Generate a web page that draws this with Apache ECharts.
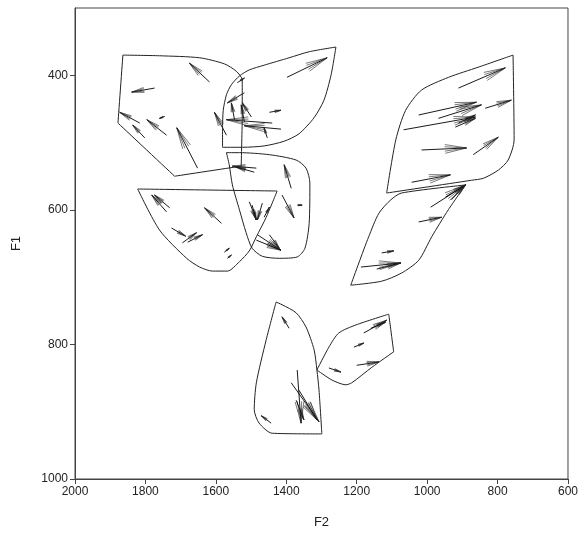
<!DOCTYPE html>
<html>
<head>
<meta charset="utf-8">
<script src="https://cdn.jsdelivr.net/npm/echarts@6/dist/echarts.min.js"></script>
<style>
html, body { margin: 0; padding: 0; background: #fff; }
#chart { width: 581px; height: 534px; }
</style>
</head>
<body>
<div id="chart"></div>
<script>
var chart = echarts.init(document.getElementById("chart"));

// axis ticks (F2 reversed, F1 reversed)
var xTicks = [2000, 1800, 1600, 1400, 1200, 1000, 800, 600];
var yTicks = [400, 600, 800, 1000];

// vowel area outlines, [F2, F1]; each starts at a corner
var hullUpperLeft = [[1864,370],[1760,371],[1646,374],[1576,383],[1542,394],[1525,407],[1525,466],[1528,535],[1717,550],[1878,471],[1864,370]];
var hullUpperMid = [[1259,358],[1335,365],[1392,374],[1463,385],[1505,392],[1533,401],[1556,414],[1570,429],[1579,452],[1581,481],[1581,507],[1525,507],[1463,505],[1406,498],[1364,487],[1321,463],[1293,437],[1273,400],[1259,358]];
var hullMid = [[1570,515],[1533,515],[1448,518],[1372,526],[1344,538],[1333,560],[1335,620],[1347,657],[1369,670],[1420,672],[1468,669],[1497,657],[1514,634],[1533,600],[1553,563],[1562,533],[1570,515]];
var hullMidLeft = [[1822,569],[1426,572],[1457,611],[1485,640],[1505,661],[1533,677],[1567,691],[1610,691],[1646,685],[1683,672],[1760,630],[1822,569]];
var hullUpperRight = [[756,370],[753,496],[770,526],[798,541],[840,553],[874,556],[1115,575],[1089,496],[1061,452],[1016,422],[939,403],[855,388],[756,370]];
var hullMidRight = [[891,563],[1073,575],[1103,585],[1137,605],[1166,640],[1194,679],[1217,712],[1129,706],[1073,694],[1024,675],[987,640],[940,600],[891,563]];
var hullLow = [[1429,737],[1457,793],[1485,857],[1491,897],[1477,917],[1440,932],[1299,933],[1307,868],[1313,838],[1321,808],[1344,774],[1372,753],[1412,741],[1429,737]];
var hullLowRight = [[1313,838],[1279,804],[1251,783],[1202,771],[1109,755],[1095,811],[1157,834],[1214,857],[1231,860],[1270,853],[1313,838]];

// indices of sharp corners inside each outline (start/end is a corner too)
var hullCorners = [[6, 7, 8, 9], [10], [], [1], [6], [6], [6], [4, 5]];

// formant movements: [F2 start, F1 start, F2 end, F1 end]
var arrows = [
    [1618,410,1675,382],[1774,419,1839,425],[1816,471,1873,455],[1802,493,1836,474],
    [1740,489,1796,466],[1745,461,1760,464],[1652,538,1711,478],[1570,489,1604,455],
    [1398,403,1284,374],[1539,411,1519,404],[1519,426,1567,441],[1547,466,1556,441],
    [1519,469,1528,444],[1499,462,1525,441],[1448,455,1415,452],[1440,471,1570,466],
    [1415,480,1519,475],[1454,493,1463,478],
    [1485,538,1553,535],[1491,544,1545,536],[1386,568,1406,533],[1412,578,1378,612],
    [1369,593,1355,593],[1505,588,1485,615],[1497,593,1485,615],[1468,590,1482,615],
    [1463,611,1448,596],[1482,637,1415,660],[1485,645,1415,660],[1448,637,1420,657],
    [1576,663,1562,657],
    [1740,603,1782,578],[1731,597,1774,578],[1584,620,1632,597],[1726,627,1686,639],
    [1695,649,1655,634],[1680,648,1638,637],[1567,672,1556,667],
    [911,419,778,389],[1024,459,860,440],[968,464,846,444],[920,477,863,464],
    [911,471,863,459],[835,449,761,437],[1067,481,863,462],[1016,511,888,508],
    [869,518,798,492],[1044,559,934,548],[990,596,891,563],[948,581,891,563],
    [931,585,891,563],
    [1024,618,959,611],[1129,664,1095,661],[1188,685,1075,679],[1143,688,1075,679],
    [1392,776,1412,759],[1369,838,1358,917],[1386,857,1307,915],[1364,868,1313,912],
    [1372,883,1350,912],[1443,917,1471,906],
    [1180,783,1115,764],[1160,776,1118,767],[1208,804,1180,798],[1200,831,1137,826],
    [1279,835,1245,841]
];

var hulls = [hullUpperLeft, hullUpperMid, hullMid, hullMidLeft, hullUpperRight, hullMidRight, hullLow, hullLowRight];

// cut an outline at its corners: each piece is smoothed on its own
function splitAtCorners(points, corners) {
    var cuts = [0].concat(corners, [points.length - 1]);
    var pieces = [];
    for (var i = 0; i < cuts.length - 1; i++) {
        pieces.push(points.slice(cuts[i], cuts[i + 1] + 1));
    }
    return pieces;
}

function renderArrow(params, api) {
    var p1 = api.coord([api.value(0), api.value(1)]);
    var p2 = api.coord([api.value(2), api.value(3)]);
    var dx = p2[0] - p1[0], dy = p2[1] - p1[1];
    var len = Math.sqrt(dx * dx + dy * dy) || 1;
    var head = Math.min(Math.max(len * 0.55, 4), 22);
    var ang = Math.atan2(dy, dx);
    var style = { stroke: '#222', lineWidth: 0.6 };
    var children = [{
        type: 'line',
        shape: { x1: p1[0], y1: p1[1], x2: p2[0], y2: p2[1] },
        style: { stroke: '#000', lineWidth: 0.9 }
    }];
    [-0.2, -0.1, 0.1, 0.2].forEach(function (a) {
        children.push({
            type: 'line',
            shape: {
                x1: p2[0], y1: p2[1],
                x2: p2[0] - head * Math.cos(ang + a),
                y2: p2[1] - head * Math.sin(ang + a)
            },
            style: style
        });
    });
    return { type: 'group', children: children };
}

var series = [];
hulls.forEach(function (h, i) {
    splitAtCorners(h, hullCorners[i]).forEach(function (piece) {
        series.push({
            type: 'line',
            data: piece,
            symbol: 'none',
            smooth: 0.25,
            silent: true,
            lineStyle: { color: '#222', width: 1 }
        });
    });
});
series.push({
    type: 'custom',
    data: arrows,
    encode: { x: [0, 2], y: [1, 3] },
    renderItem: renderArrow,
    silent: true
});

var axisText = {
    color: '#222',
    fontFamily: 'Liberation Sans, Arial, sans-serif',
    fontSize: 12,
    formatter: function (v) { return String(v); }
};

var option = {
    animation: false,
    grid: {
        left: 75, right: 11, top: 8, bottom: 55,
        show: true, borderColor: '#444', borderWidth: 1
    },
    xAxis: {
        type: 'value',
        inverse: true,
        min: 600, max: 2000,
        name: 'F2',
        nameLocation: 'middle',
        nameGap: 37,
        nameTextStyle: { color: '#222', fontFamily: 'Liberation Sans, Arial, sans-serif', fontSize: 13 },
        axisLine: { show: true, lineStyle: { color: '#444' } },
        axisTick: { show: true, length: 5, customValues: xTicks, lineStyle: { color: '#444' } },
        axisLabel: Object.assign({ customValues: xTicks, margin: 7 }, axisText),
        splitLine: { show: false }
    },
    yAxis: {
        type: 'value',
        inverse: true,
        min: 300, max: 1000,
        name: 'F1',
        nameLocation: 'middle',
        nameGap: 52,
        nameTextStyle: { color: '#222', fontFamily: 'Liberation Sans, Arial, sans-serif', fontSize: 13 },
        axisLine: { show: true, lineStyle: { color: '#444' } },
        axisTick: { show: true, length: 5, customValues: yTicks, lineStyle: { color: '#444' } },
        axisLabel: Object.assign({ customValues: yTicks, margin: 7 }, axisText),
        splitLine: { show: false }
    },
    series: series
};

chart.setOption(option);
</script>
</body>
</html>
